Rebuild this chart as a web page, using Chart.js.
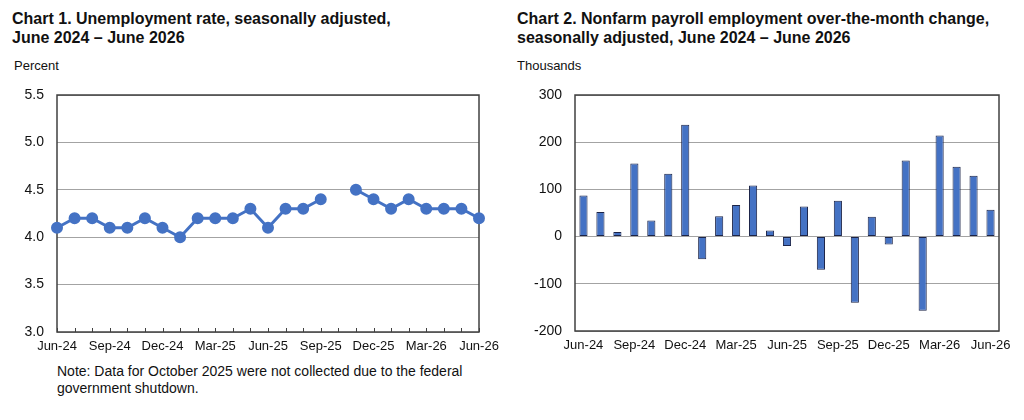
<!DOCTYPE html>
<html>
<head>
<meta charset="utf-8">
<script src="https://cdn.jsdelivr.net/npm/chart.js@4"></script>
<style>
  body { margin: 0; background: #fff; font-family: "Liberation Sans", Arial, sans-serif; color: #111; }
  #wrap { position: relative; width: 1024px; height: 420px; overflow: hidden; }
  .title { position: absolute; top: 9px; font-weight: bold; font-size: 16px; line-height: 19px; }
  .unit { position: absolute; top: 58px; font-size: 13px; }
  .box { position: absolute; top: 85px; width: 512px; height: 275px; }
  .note { position: absolute; left: 57px; top: 363px; font-size: 14px; line-height: 17px; }
</style>
</head>
<body>
<div id="wrap">
  <div class="title" style="left:12px">Chart 1. Unemployment rate, seasonally adjusted,<br>June 2024 – June 2026</div>
  <div class="title" style="left:517px">Chart 2. Nonfarm payroll employment over-the-month change,<br>seasonally adjusted, June 2024 – June 2026</div>
  <div class="unit" style="left:14px">Percent</div>
  <div class="unit" style="left:517px">Thousands</div>
  <div class="box" style="left:0"><canvas id="rate" width="512" height="275"></canvas></div>
  <div class="box" style="left:512px"><canvas id="payroll" width="512" height="275"></canvas></div>
  <div class="note">Note: Data for October 2025 were not collected due to the federal<br>government shutdown.</div>
</div>
<script>
// months June 2024 - June 2026
const months = ["Jun-24","Jul-24","Aug-24","Sep-24","Oct-24","Nov-24","Dec-24",
  "Jan-25","Feb-25","Mar-25","Apr-25","May-25","Jun-25","Jul-25","Aug-25","Sep-25",
  "Oct-25","Nov-25","Dec-25","Jan-26","Feb-26","Mar-26","Apr-26","May-26","Jun-26"];

// unemployment rate, percent (Oct-25 not collected)
const unemployment = [4.1,4.2,4.2,4.1,4.1,4.2,4.1,4.0,4.2,4.2,4.2,4.3,4.1,4.3,4.3,4.4,
  null,4.5,4.4,4.3,4.4,4.3,4.3,4.3,4.2];

// payroll change, thousands
const payrolls = [87,52,10,155,34,133,237,-48,43,67,108,13,-20,64,-70,76,-140,42,-17,
  161,-157,214,148,129,57];

const blue = "#4472C4";
const gridGray = "#a3a3a3";
const axisDark = "#404040";

Chart.defaults.font.family = "'Liberation Sans', Arial, sans-serif";
Chart.defaults.font.size = 13;
Chart.defaults.color = "#111";

// every third month gets a label
function quarterLabel(value, index) {
  return index % 3 === 0 ? months[index] : "";
}

// fixed axis sizes so the plot area sits where the reference has it
function fixX(h) {
  return s => { s.height = h; s.paddingLeft = 0; s.paddingRight = 0; };
}
function fixY(w) {
  return s => { s.width = w; s.paddingTop = 0; s.paddingBottom = 0; };
}

// box round the plot area
const frame = {
  id: "frame",
  beforeDatasetsDraw(chart) {
    const a = chart.chartArea, ctx = chart.ctx;
    ctx.save();
    ctx.strokeStyle = axisDark;
    ctx.lineWidth = 1.5;
    ctx.strokeRect(a.left, a.top, a.right - a.left, a.bottom - a.top);
    ctx.restore();
  }
};

// small ticks pointing up from the x axis
const innerTicks = {
  id: "innerTicks",
  afterDatasetsDraw(chart) {
    const x = chart.scales.x, ctx = chart.ctx, b = chart.chartArea.bottom;
    ctx.save();
    ctx.strokeStyle = axisDark;
    ctx.lineWidth = 1;
    for (let i = 0; i < x.ticks.length; i++) {
      const px = Math.round(x.getPixelForTick(i)) + 0.5;
      ctx.beginPath();
      ctx.moveTo(px, b);
      ctx.lineTo(px, b - 4);
      ctx.stroke();
    }
    ctx.restore();
  }
};

new Chart(document.getElementById("rate"), {
  type: "line",
  data: {
    labels: months,
    datasets: [{
      data: unemployment,
      borderColor: blue,
      backgroundColor: blue,
      borderWidth: 3,
      pointRadius: 4.5,
      pointHoverRadius: 4.5,
      spanGaps: false,
      clip: false,
      tension: 0
    }]
  },
  options: {
    responsive: false,
    animation: false,
    maintainAspectRatio: false,
    layout: { padding: { top: 10, right: 33, left: 0, bottom: 0 } },
    plugins: { legend: { display: false }, tooltip: { enabled: false } },
    scales: {
      x: {
        offset: false,
        grid: { display: false, drawTicks: false },
        border: { display: false },
        ticks: { autoSkip: false, maxRotation: 0, padding: 7, callback: quarterLabel },
        afterFit: fixX(28)
      },
      y: {
        min: 3, max: 5.5,
        grid: { color: gridGray, drawTicks: false },
        border: { display: false },
        ticks: { stepSize: 0.5, padding: 13, font: { size: 14 }, callback: v => v.toFixed(1) },
        afterFit: fixY(57)
      }
    }
  },
  plugins: [frame, innerTicks]
});

new Chart(document.getElementById("payroll"), {
  type: "bar",
  data: {
    labels: months,
    datasets: [{
      data: payrolls,
      backgroundColor: blue,
      borderColor: "#1c2448",
      borderWidth: 1,
      borderSkipped: false,
      categoryPercentage: 1,
      barPercentage: 0.48
    }]
  },
  options: {
    responsive: false,
    animation: false,
    maintainAspectRatio: false,
    layout: { padding: { top: 10, right: 25, left: 0, bottom: 0 } },
    plugins: { legend: { display: false }, tooltip: { enabled: false } },
    scales: {
      x: {
        grid: { display: false, drawTicks: false },
        border: { display: false },
        ticks: { autoSkip: false, maxRotation: 0, padding: 7, callback: quarterLabel },
        afterFit: fixX(29)
      },
      y: {
        min: -200, max: 300,
        grid: { color: gridGray, drawTicks: false },
        border: { display: false },
        ticks: { stepSize: 100, padding: 13, font: { size: 14 } },
        afterFit: fixY(63)
      }
    }
  },
  plugins: [frame]
});
</script>
</body>
</html>
